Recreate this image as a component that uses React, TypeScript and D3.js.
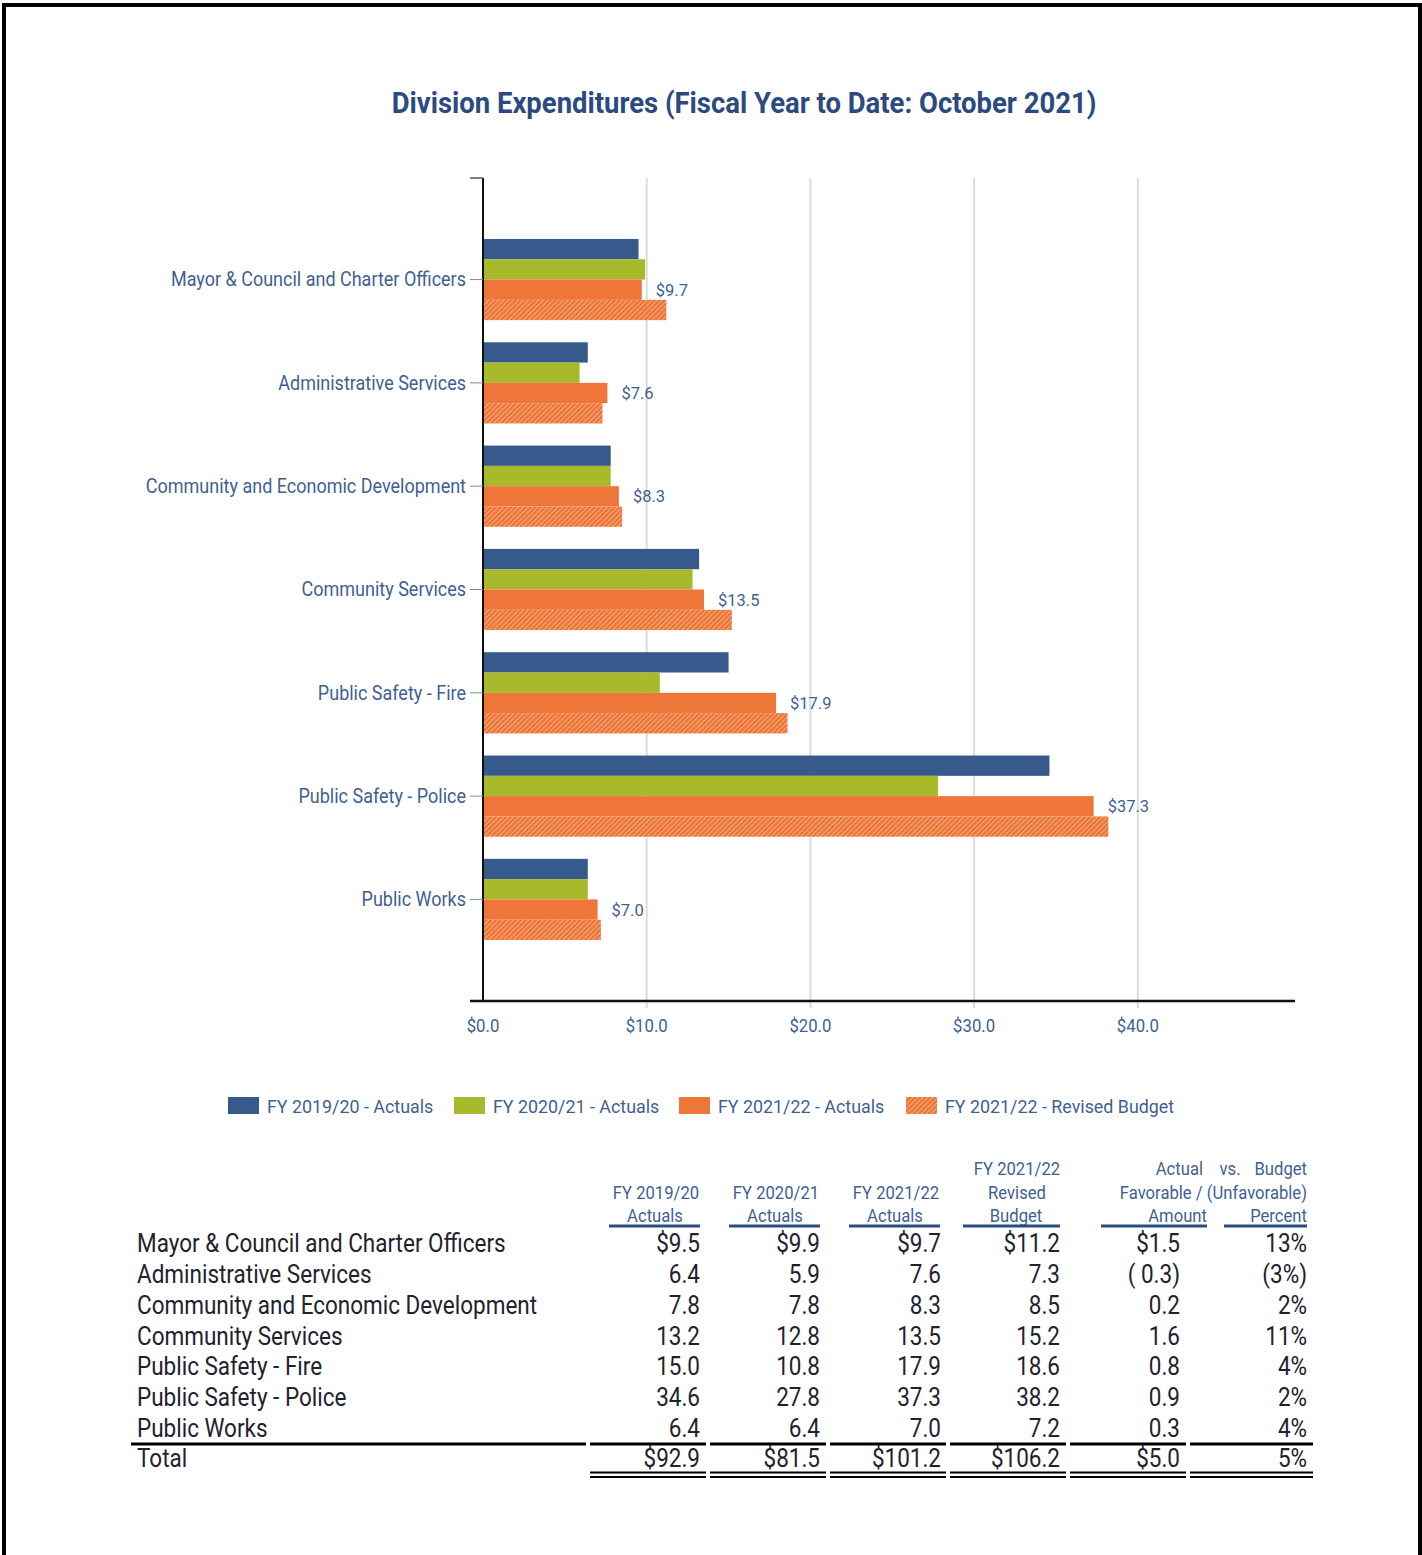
import * as d3 from "d3";

const categories = [
  "Mayor & Council and Charter Officers",
  "Administrative Services",
  "Community and Economic Development",
  "Community Services",
  "Public Safety - Fire",
  "Public Safety - Police",
  "Public Works",
];
const fy1920 = [9.5, 6.4, 7.8, 13.2, 15.0, 34.6, 6.4];
const fy2021 = [9.9, 5.9, 7.8, 12.8, 10.8, 27.8, 6.4];
const fy2122 = [9.7, 7.6, 8.3, 13.5, 17.9, 37.3, 7.0];
const budget = [11.2, 7.3, 8.5, 15.2, 18.6, 38.2, 7.2];
const varAmount = ["$1.5", "( 0.3)", "0.2", "1.6", "0.8", "0.9", "0.3"];
const varPercent = ["13%", "(3%)", "2%", "11%", "4%", "2%", "4%"];
const totals = ["$92.9", "$81.5", "$101.2", "$106.2", "$5.0", "5%"];
const xTicks = [0, 10, 20, 30, 40];
const seriesNames = [
  "FY 2019/20 - Actuals",
  "FY 2020/21 - Actuals",
  "FY 2021/22 - Actuals",
  "FY 2021/22 - Revised Budget",
];

const BLUE = "#375a8c";
const GREEN = "#a8b92c";
const ORANGE = "#ee7638";
const LABEL = "#3f5f93";
const TITLE = "#2b4a80";
const INK = "#22222e";
const FONT = "Roboto, sans-serif";

function T({
  x,
  y,
  size,
  sx = 0.9,
  anchor = "start",
  fill = LABEL,
  weight = 400,
  children,
}: {
  x: number;
  y: number;
  size: number;
  sx?: number;
  anchor?: string;
  fill?: string;
  weight?: number;
  children: any;
}) {
  return (
    <text
      transform={`translate(${x},${y}) scale(${sx},1)`}
      fontFamily={FONT}
      fontSize={size}
      fontWeight={weight}
      textAnchor={anchor}
      fill={fill}
      dominantBaseline="central"
    >
      {children}
    </text>
  );
}

export default function App() {
  const width = 1422;
  const height = 1555;
  const x = d3.scaleLinear().domain([0, 49.6]).range([483, 1295]);
  const y = d3
    .scaleBand<string>()
    .domain(categories)
    .range([178, 1001])
    .paddingInner(0.214)
    .paddingOuter(0.59);
  const sub = d3
    .scaleBand<number>()
    .domain([0, 1, 2, 3])
    .range([0, y.bandwidth()]);
  const series = [fy1920, fy2021, fy2122, budget];
  const fills = [BLUE, GREEN, ORANGE, "url(#hatch)"];

  // table layout
  const rowY = d3
    .scalePoint<string>()
    .domain([...categories, "Total"])
    .range([1244, 1459]);
  const colRight = [700, 820, 941, 1060, 1180, 1307];
  const underline: [number, number][] = [
    [609, 700],
    [729, 820],
    [849, 940],
    [963, 1060],
    [1101, 1207],
    [1224, 1307],
  ];
  const totalSegs: [number, number][] = [
    [590, 706],
    [710, 826],
    [830, 946],
    [950, 1066],
    [1070, 1186],
    [1190, 1313],
  ];
  const fmt = (v: number, i: number) => (i === 0 ? "$" : "") + v.toFixed(1);
  const legendX = [228, 454, 679, 906];
  const HS = 18;
  const HX = 0.925;
  const RS = 25;
  const RX = 0.9;

  return (
    <svg
      width={width}
      height={height}
      style={{ position: "absolute", left: 0, top: 0, background: "#fff" }}
    >
      <defs>
        <pattern
          id="hatch"
          patternUnits="userSpaceOnUse"
          width={3.5}
          height={3.5}
          patternTransform="rotate(45)"
        >
          <rect width={3.5} height={3.5} fill={ORANGE} />
          <line x1={0} y1={0} x2={0} y2={3.5} stroke="#fbcfb2" strokeWidth={1.2} />
        </pattern>
      </defs>
      <rect x={0} y={0} width={width} height={height} fill="#fff" />
      {/* frame */}
      <path d="M4,1560 V5 H1420 V1560" fill="none" stroke="#000" strokeWidth={4} />

      <T x={744} y={103} size={30} sx={0.915} anchor="middle" fill={TITLE} weight={700}>
        Division Expenditures (Fiscal Year to Date: October 2021)
      </T>

      {/* grid */}
      {xTicks.slice(1).map((t) => (
        <line key={t} x1={x(t)} x2={x(t)} y1={178} y2={1008} stroke="#dcdcdc" strokeWidth={2} />
      ))}

      {/* bars */}
      {categories.map((c, i) => (
        <g key={c} transform={`translate(0,${y(c)})`}>
          {series.map((s, j) => (
            <rect
              key={j}
              x={x(0)}
              y={sub(j)}
              width={x(s[i]) - x(0)}
              height={sub.bandwidth()}
              fill={fills[j]}
            />
          ))}
          <T
            x={x(fy2122[i]) + 14}
            y={(sub(2) ?? 0) + sub.bandwidth() / 2}
            size={17}
            sx={0.97}
          >
            {"$" + fy2122[i].toFixed(1)}
          </T>
        </g>
      ))}

      {/* y axis */}
      <line x1={x(0)} x2={x(0)} y1={178} y2={1002} stroke="#111" strokeWidth={2} />
      <line x1={470} x2={x(0)} y1={178} y2={178} stroke="#555" strokeWidth={1.5} />
      {categories.map((c) => {
        const cy = (y(c) ?? 0) + y.bandwidth() / 2;
        return (
          <g key={c}>
            <line x1={470} x2={x(0)} y1={cy} y2={cy} stroke="#888" strokeWidth={1} />
            <T x={466} y={cy} size={20} sx={0.9} anchor="end">
              {c}
            </T>
          </g>
        );
      })}

      {/* x axis */}
      <line x1={470} x2={1295} y1={1001} y2={1001} stroke="#111" strokeWidth={2.5} />
      {xTicks.map((t) => (
        <T key={t} x={x(t)} y={1026} size={18} sx={0.93} anchor="middle">
          {"$" + t.toFixed(1)}
        </T>
      ))}

      {/* legend */}
      {seriesNames.map((n, j) => (
        <g key={n}>
          <rect x={legendX[j]} y={1097} width={31} height={17} fill={fills[j]} />
          <T x={legendX[j] + 39} y={1106} size={19} sx={0.94}>
            {n}
          </T>
        </g>
      ))}

      {/* table header */}
      <g>
        <T x={656} y={1193} size={HS} sx={HX} anchor="middle">FY 2019/20</T>
        <T x={655} y={1216} size={HS} sx={HX} anchor="middle">Actuals</T>
        <T x={776} y={1193} size={HS} sx={HX} anchor="middle">FY 2020/21</T>
        <T x={775} y={1216} size={HS} sx={HX} anchor="middle">Actuals</T>
        <T x={896} y={1193} size={HS} sx={HX} anchor="middle">FY 2021/22</T>
        <T x={895} y={1216} size={HS} sx={HX} anchor="middle">Actuals</T>
        <T x={1017} y={1169} size={HS} sx={HX} anchor="middle">FY 2021/22</T>
        <T x={1017} y={1193} size={HS} sx={HX} anchor="middle">Revised</T>
        <T x={1016} y={1216} size={HS} sx={HX} anchor="middle">Budget</T>
        <T x={1203} y={1169} size={HS} sx={HX} anchor="end">Actual</T>
        <T x={1230} y={1169} size={HS} sx={HX} anchor="middle">vs.</T>
        <T x={1307} y={1169} size={HS} sx={HX} anchor="end">Budget</T>
        <T x={1307} y={1193} size={HS} sx={HX} anchor="end">Favorable / (Unfavorable)</T>
        <T x={1207} y={1216} size={HS} sx={HX} anchor="end">Amount</T>
        <T x={1307} y={1216} size={HS} sx={HX} anchor="end">Percent</T>
        {underline.map(([a, b], k) => (
          <line key={k} x1={a} x2={b} y1={1226} y2={1226} stroke={TITLE} strokeWidth={3} />
        ))}
      </g>

      {/* table rows */}
      {categories.map((c, i) => {
        const ry = rowY(c) ?? 0;
        const cells = [
          fmt(fy1920[i], i),
          fmt(fy2021[i], i),
          fmt(fy2122[i], i),
          fmt(budget[i], i),
          varAmount[i],
          varPercent[i],
        ];
        return (
          <g key={c}>
            <T x={137} y={ry} size={RS} sx={RX} fill={INK}>
              {c}
            </T>
            {cells.map((v, k) => (
              <T key={k} x={colRight[k]} y={ry} size={RS} sx={RX} anchor="end" fill={INK}>
                {v}
              </T>
            ))}
          </g>
        );
      })}
      <line x1={131} x2={586} y1={1444} y2={1444} stroke="#000" strokeWidth={3} />
      {totalSegs.map(([a, b], k) => (
        <g key={k}>
          <line x1={a} x2={b} y1={1444} y2={1444} stroke="#000" strokeWidth={3} />
          <line x1={a} x2={b} y1={1472.5} y2={1472.5} stroke="#000" strokeWidth={2} />
          <line x1={a} x2={b} y1={1477} y2={1477} stroke="#000" strokeWidth={2} />
        </g>
      ))}
      <T x={137} y={rowY("Total") ?? 0} size={RS} sx={RX} fill={INK}>
        Total
      </T>
      {totals.map((v, k) => (
        <T key={k} x={colRight[k]} y={rowY("Total") ?? 0} size={RS} sx={RX} anchor="end" fill={INK}>
          {v}
        </T>
      ))}
    </svg>
  );
}
